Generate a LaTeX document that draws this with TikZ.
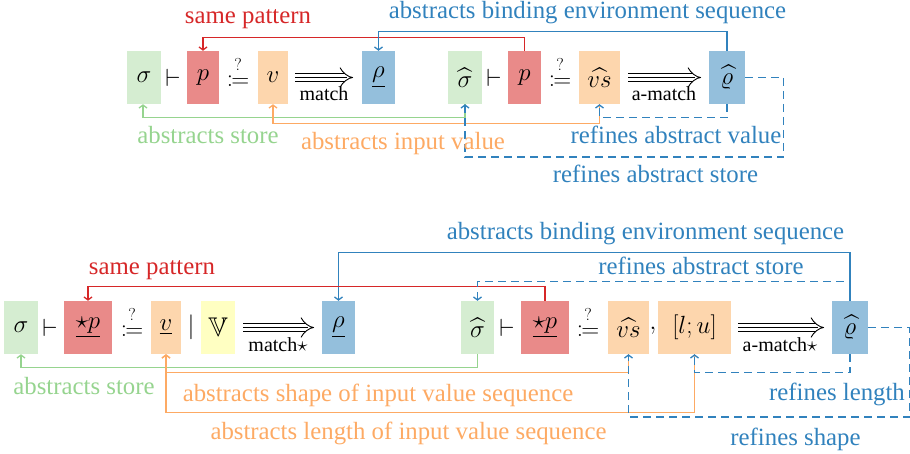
\documentclass[tikz,border=0pt]{standalone}
\usepackage{amssymb}
\usepackage{mathtools}
\usepackage{fontspec}
\setmainfont{Liberation Serif}
\usetikzlibrary{arrows.meta}
\definecolor{gfill}{RGB}{213,237,209}
\definecolor{rfill}{RGB}{233,138,137}
\definecolor{ofill}{RGB}{253,214,173}
\definecolor{bfill}{RGB}{148,191,220}
\definecolor{yfill}{RGB}{255,255,194}
\definecolor{gline}{RGB}{150,212,143}
\definecolor{rline}{RGB}{214,39,40}
\definecolor{oline}{RGB}{253,170,100}
\definecolor{bline}{RGB}{49,130,189}
\begin{document}
\begin{tikzpicture}[x=1pt,y=-1pt,
  box/.style={minimum height=53pt, inner sep=0pt, font=\fontsize{27}{30}\selectfont},
  sym/.style={inner sep=0pt, font=\fontsize{27}{30}\selectfont},
  lbl/.style={anchor=base, inner sep=0pt, font=\fontsize{24.8}{30}\selectfont},
  mlbl/.style={anchor=base, inner sep=0pt, font=\fontsize{20}{24}\selectfont},
  conn/.style={line width=1.3pt, -{Straight Barb[length=3pt,width=8pt]}},
  dsh/.style={conn, dash pattern=on 8pt off 5pt},
  tarrow/.style={line width=0.9pt, double distance=6.4pt, -{Implies}},
  tmid/.style={line width=0.9pt, shorten >=6pt}
]
\useasboundingbox (0,0) rectangle (910,454);
% ---------- top row ----------
\node[box, fill=gfill, minimum width=34pt] (s1) at (144,77.5) {$\sigma$};
\node[sym] (t1) at (173,77.5) {$\vdash$};
\node[box, fill=rfill, minimum width=32pt] (p1) at (203,77.5) {$p$};
\node[sym] (q1) at (238,72) {$\overset{?}{\coloneqq}$};
\node[box, fill=ofill, minimum width=30pt] (v1) at (273,77.5) {$v$};
\coordinate (a1s) at (295,77.5); \coordinate (a1e) at (353,77.5);
\draw[tarrow] (a1s) -- (a1e); \draw[tmid] (a1s) -- (a1e);
\node[mlbl] (m1) at (324,101) {match};
\node[box, fill=bfill, minimum width=33pt] (r1) at (378.5,77.5) {$\underline{\rho}$};
\node[box, fill=gfill, minimum width=34pt] (s2) at (465,77.5) {$\widehat{\sigma}$};
\node[sym] (t2) at (494,77.5) {$\vdash$};
\node[box, fill=rfill, minimum width=33pt] (p2) at (524.5,77.5) {$p$};
\node[sym] (q2) at (560,72) {$\overset{?}{\coloneqq}$};
\node[box, fill=ofill, minimum width=41pt] (vs2) at (599.5,77.5) {$\widehat{vs}$};
\coordinate (a2s) at (628,77.5); \coordinate (a2e) at (701,77.5);
\draw[tarrow] (a2s) -- (a2e); \draw[tmid] (a2s) -- (a2e);
\node[mlbl] (m2) at (664,101) {a-match};
\node[box, fill=bfill, minimum width=36pt] (r2) at (727,77.5) {$\widehat{\varrho}$};
% connectors top
\draw[conn, rline] (p2.north) -- ++(0,-13.5) -| (p1.north);
\draw[conn, bline] (r2.north) -- ++(0,-19.5) -| (r1.north);
\draw[conn, gline] (s2.south) -- ++(0,13.5) -| ([xshift=-1pt]s1.south);
\draw[conn, oline] (vs2.south) -- ++(0,19.5) -| (v1.south);
\draw[dsh, bline] (r2.south) -- ++(0,13.5) -| (vs2.south);
\draw[dsh, bline] (r2.east) -- ++(38.5,0) -- ++(0,79.5) -| (s2.south);
% labels top
\node[lbl, rline] (l1) at (248,24) {same pattern};
\node[lbl, bline] (l2) at (587.5,19) {abstracts binding environment sequence};
\node[lbl, gline] (l3) at (208,144) {abstracts store};
\node[lbl, oline] (l4) at (403,150) {abstracts input value};
\node[lbl, bline] (l5) at (676,144) {refines abstract value};
\node[lbl, bline] (l6) at (655.5,183) {refines abstract store};
% ---------- bottom row ----------
\node[box, fill=gfill, minimum width=34pt] (S1) at (21,327.5) {$\sigma$};
\node[sym] (T1) at (50,327.5) {$\vdash$};
\node[box, fill=rfill, minimum width=48pt] (P1) at (88,327.5) {$\underline{\star p}$};
\node[sym] (Q1) at (132,322) {$\overset{?}{\coloneqq}$};
\node[box, fill=ofill, minimum width=30pt] (V1) at (166,327.5) {$\underline{v}$};
\node[sym] (B1) at (191,327.5) {$|$};
\node[box, fill=yfill, minimum width=34pt] (W1) at (218,327.5) {$\mathbb{V}$};
\coordinate (A1s) at (243,327.5); \coordinate (A1e) at (314,327.5);
\draw[tarrow] (A1s) -- (A1e); \draw[tmid] (A1s) -- (A1e);
\node[mlbl] (M1) at (278,351) {match$\star$};
\node[box, fill=bfill, minimum width=33pt] (R1) at (338.5,327.5) {$\underline{\rho}$};
\node[box, fill=gfill, minimum width=33pt] (S2) at (477.5,327.5) {$\widehat{\sigma}$};
\node[sym] (T2) at (507,327.5) {$\vdash$};
\node[box, fill=rfill, minimum width=48pt] (P2) at (545,327.5) {$\underline{\star p}$};
\node[sym] (Q2) at (588,322) {$\overset{?}{\coloneqq}$};
\node[box, fill=ofill, minimum width=41pt] (VS2) at (628.5,327.5) {$\widehat{vs}$};
\node[sym] (C2) at (653,331) {$,$};
\node[box, fill=ofill, minimum width=73pt] (LU) at (694.5,327.5) {$[l;u]$};
\coordinate (A2s) at (738,327.5); \coordinate (A2e) at (824,327.5);
\draw[tarrow] (A2s) -- (A2e); \draw[tmid] (A2s) -- (A2e);
\node[mlbl] (M2) at (780,351) {a-match$\star$};
\node[box, fill=bfill, minimum width=36pt] (R2) at (850,327.5) {$\widehat{\varrho}$};
% connectors bottom
\draw[conn, bline] (R2.north) -- ++(0,-48.5) -| (R1.north);
\draw[conn, rline] (P2.north) -- ++(0,-14.5) -| (P1.north);
\draw[dsh, bline] (R2.north) -- ++(0,-19.5) -| (S2.north);
\draw[conn, gline] (S2.south) -- ++(0,13.5) -| (S1.south);
\draw[conn, oline] (VS2.south) -- ++(0,18.5) -| (V1.south);
\draw[conn, oline] (LU.south) -- ++(0,58.5) -| (V1.south);
\draw[dsh, bline] (R2.south) -- ++(0,18.5) -| (LU.south);
\draw[dsh, bline] (R2.east) -- ++(41.5,0) -- ++(0,89.5) -| (VS2.south);
% labels bottom
\node[lbl, bline] (L1) at (645.5,240) {abstracts binding environment sequence};
\node[lbl, rline] (L2) at (152,275) {same pattern};
\node[lbl, bline] (L3) at (701,275) {refines abstract store};
\node[lbl, gline] (L4) at (84,394) {abstracts store};
\node[lbl, oline] (L5) at (378,401) {abstracts shape of input value sequence};
\node[lbl, oline] (L6) at (408.5,439) {abstracts length of input value sequence};
\node[lbl, bline] (L7) at (837,400) {refines length};
\node[lbl, bline] (L8) at (795.5,445) {refines shape};
\end{tikzpicture}
\end{document}
